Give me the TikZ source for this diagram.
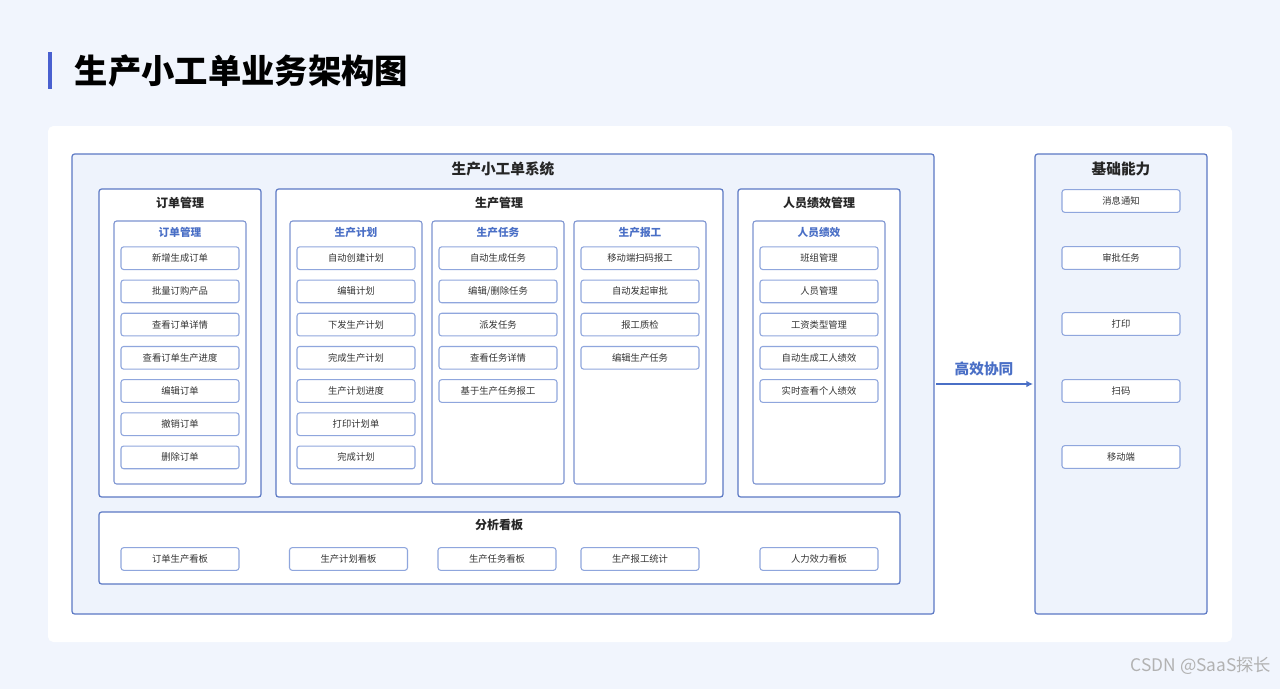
\documentclass[tikz,border=0pt]{standalone}
\usepackage{fontspec}
\usetikzlibrary{arrows.meta}
\setmainfont{Noto Sans CJK SC}
\begin{document}
\begin{tikzpicture}[x=0.75pt,y=-0.75pt]
\definecolor{bgc}{HTML}{F1F5FD}
\definecolor{sysf}{HTML}{EEF3FC}
\definecolor{bd}{HTML}{5B78C4}
\definecolor{bdl}{HTML}{8FA6DD}
\definecolor{blu}{HTML}{4A6FC6}
\definecolor{txt}{HTML}{333333}
\tikzset{
  itembox/.style={draw=bdl,line width=0.8pt,fill=white,rounded corners=2pt,minimum width=88.5pt,minimum height=17pt,inner sep=0pt,font=\fontsize{7}{8}\selectfont,text=txt},
  gtitle/.style={font=\fontsize{9}{10}\selectfont\bfseries,text=black!85},
  stitle/.style={font=\fontsize{8}{9}\selectfont\bfseries,text=blu},
}
\fill[bgc] (0,0) rectangle (1280,689);
\useasboundingbox (0,0) rectangle (1280,689);
\fill[bd!80!blue] (48,52) rectangle (52,89);
\node[anchor=west,font=\fontsize{25}{28}\selectfont\bfseries] (title) at (70,71) {生产小工单业务架构图};
\fill[white,rounded corners=4pt] (48,126) rectangle (1232,642);
% system
\draw[bd,line width=0.9pt,fill=sysf,rounded corners=2pt] (72,154) rectangle (934,614);
\node[gtitle,font=\fontsize{11}{12}\selectfont\bfseries] (sys) at (503,169) {生产小工单系统};
% groups
\foreach \a/\b/\c/\d in {99/189/261/497, 276/189/723/497, 738/189/900/497, 99/512/900/584}
  \draw[bd,line width=0.9pt,fill=white,rounded corners=2pt] (\a,\b) rectangle (\c,\d);
\node[gtitle] (g1) at (180,203) {订单管理};
\node[gtitle] (g2) at (499,203) {生产管理};
\node[gtitle] (g3) at (819,203) {人员绩效管理};
\node[gtitle] (g4) at (499,525) {分析看板};
\foreach \a in {114,290,432,574,753}
  \draw[bd!80,line width=0.8pt,rounded corners=2pt] (\a,221) rectangle (\a+132,484);
\node[stitle] (s1) at (180,232) {订单管理};
\node[stitle] (s2) at (356,232) {生产计划};
\node[stitle] (s3) at (498,232) {生产任务};
\node[stitle] (s4) at (640,232) {生产报工};
\node[stitle] (s5) at (819,232) {人员绩效};
% items
\foreach \t [count=\i] in {新增生成订单,批量订购产品,查看订单详情,查看订单生产进度,编辑订单,撤销订单,删除订单}
  \node[itembox] (a\i) at (180,225+33.2*\i) {\t};
\foreach \t [count=\i] in {自动创建计划,编辑计划,下发生产计划,完成生产计划,生产计划进度,打印计划单,完成计划}
  \node[itembox] (b\i) at (356,225+33.2*\i) {\t};
\foreach \t [count=\i] in {自动生成任务,编辑/删除任务,派发任务,查看任务详情,基于生产任务报工}
  \node[itembox] (c\i) at (498,225+33.2*\i) {\t};
\foreach \t [count=\i] in {移动端扫码报工,自动发起审批,报工质检,编辑生产任务}
  \node[itembox] (d\i) at (640,225+33.2*\i) {\t};
\foreach \t [count=\i] in {班组管理,人员管理,工资类型管理,自动生成工人绩效,实时查看个人绩效}
  \node[itembox] (e\i) at (819,225+33.2*\i) {\t};
\foreach \t/\x [count=\i] in {订单生产看板/180,生产计划看板/348.5,生产任务看板/497,生产报工统计/640,人力效力看板/819}
  \node[itembox] (f\i) at (\x,559) {\t};
% base
\draw[bd,line width=0.9pt,fill=sysf,rounded corners=2pt] (1035,154) rectangle (1207,614);
\node[gtitle,font=\fontsize{11}{12}\selectfont\bfseries] (base) at (1121,169) {基础能力};
\foreach \t/\y [count=\i] in {消息通知/201,审批任务/258,打印/324,扫码/391,移动端/457}
  \node[itembox] (h\i) at (1121,\y) {\t};
% arrow
\coordinate (p1) at (936,384);
\coordinate (p2) at (1033,384);
\draw[blu,line width=1pt,-{Latex[length=5pt,width=5pt]}] (p1) -- (p2);
\node[font=\fontsize{11}{12}\selectfont\bfseries,text=blu] (lbl) at (984,369) {高效协同};
\node[anchor=east,font=\fontsize{13}{14}\selectfont,text=gray!60] (wm) at (1276,666) {CSDN @SaaS探长};
\end{tikzpicture}
\end{document}
